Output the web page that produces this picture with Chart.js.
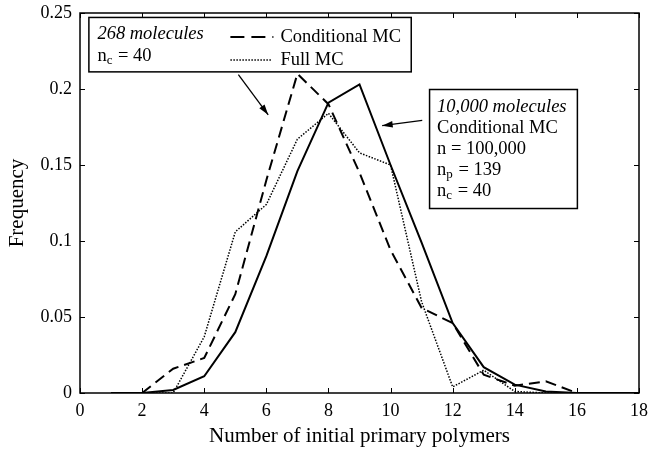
<!DOCTYPE html>
<html>
<head>
<meta charset="utf-8">
<script src="https://cdn.jsdelivr.net/npm/chart.js@4.4.1/dist/chart.umd.min.js"></script>
<style>
  body { margin: 0; background: #fff; }
  #wrap { width: 648px; height: 451px; }
</style>
</head>
<body>
<div id="wrap"><canvas id="grafico"></canvas></div>
<script>
// number of initial primary polymers
const polimeros = [1, 2, 3, 4, 5, 6, 7, 8, 9, 10, 11, 12, 13, 14, 15, 16, 17, 18];
// 10,000 molecules, conditional MC (solid)
const condMC10000 = [0, 0, 0.002, 0.011, 0.040, 0.090, 0.146, 0.191, 0.203, 0.150, 0.099, 0.046, 0.017, 0.0055, 0.001, 0, 0, 0];
// 268 molecules, conditional MC (dashed)
const condMC268 = [null, 0, 0.016, 0.023, 0.065, 0.140, 0.210, 0.190, 0.145, 0.094, 0.056, 0.046, 0.012, 0.0048, 0.0077, 0, 0, 0];
// 268 molecules, full MC (dotted)
const fullMC268 = [0, 0, 0, 0.037, 0.106, 0.124, 0.167, 0.184, 0.158, 0.150, 0.060, 0.004, 0.015, 0.001, 0, 0, 0, 0];

const xTicks = [0, 2, 4, 6, 8, 10, 12, 14, 16, 18];
const yTicks = [0, 0.05, 0.1, 0.15, 0.2, 0.25];
const yTickLabels = ['0', '0.05', '0.1', '0.15', '0.2', '0.25'];

const legendaNomes = ['Conditional MC', 'Full MC'];
const caixa268 = ['268 molecules', ['n', 'c', ' = 40']];
const caixa10000 = ['10,000 molecules', 'Conditional MC', 'n = 100,000', ['n', 'p', ' = 139'], ['n', 'c', ' = 40']];

const serif = '"Liberation Serif", "Times New Roman", serif';

function pontos(valores) {
    return polimeros.map((x, i) => ({ x: x, y: valores[i] }));
}

// texto com subscrito: [base, sub, resto]
function textoSub(ctx, partes, x, y, italico) {
    ctx.font = (italico ? 'italic ' : '') + '18.5px ' + serif;
    if (typeof partes === 'string') {
        ctx.fillText(partes, x, y);
        return;
    }
    ctx.fillText(partes[0], x, y);
    let w = ctx.measureText(partes[0]).width;
    ctx.font = '13px ' + serif;
    ctx.fillText(partes[1], x + w, y + 5);
    w += ctx.measureText(partes[1]).width + 1;
    ctx.font = '18.5px ' + serif;
    ctx.fillText(partes[2], x + w, y);
}

function seta(ctx, x1, y1, x2, y2) {
    const ang = Math.atan2(y2 - y1, x2 - x1);
    ctx.beginPath();
    ctx.moveTo(x1, y1);
    ctx.lineTo(x2, y2);
    ctx.lineWidth = 1.3;
    ctx.stroke();
    ctx.beginPath();
    ctx.moveTo(x2, y2);
    ctx.lineTo(x2 - 11 * Math.cos(ang - 0.3), y2 - 11 * Math.sin(ang - 0.3));
    ctx.lineTo(x2 - 11 * Math.cos(ang + 0.3), y2 - 11 * Math.sin(ang + 0.3));
    ctx.closePath();
    ctx.fill();
}

const moldura = {
    id: 'moldura',
    afterDatasetsDraw(chart) {
        const { ctx, chartArea: a, scales: { x, y } } = chart;
        ctx.save();
        ctx.strokeStyle = '#000';
        ctx.fillStyle = '#000';
        ctx.lineWidth = 1.5;
        ctx.strokeRect(a.left, a.top, a.right - a.left, a.bottom - a.top);
        ctx.lineWidth = 1;
        ctx.beginPath();
        xTicks.forEach(v => {
            const px = Math.round(x.getPixelForValue(v)) + 0.5;
            ctx.moveTo(px, a.bottom); ctx.lineTo(px, a.bottom - 5);
            ctx.moveTo(px, a.top); ctx.lineTo(px, a.top + 5);
        });
        yTicks.forEach(v => {
            const py = Math.round(y.getPixelForValue(v)) + 0.5;
            ctx.moveTo(a.left, py); ctx.lineTo(a.left + 5, py);
            ctx.moveTo(a.right, py); ctx.lineTo(a.right - 5, py);
        });
        ctx.stroke();

        // caixa 1 (268 molecules + legenda)
        const b1 = { l: x.getPixelForValue(0.27), r: x.getPixelForValue(10.65), t: y.getPixelForValue(0.2474), b: y.getPixelForValue(0.2116) };
        ctx.fillStyle = '#fff';
        ctx.fillRect(b1.l, b1.t, b1.r - b1.l, b1.b - b1.t);
        ctx.lineWidth = 1.5;
        ctx.strokeRect(b1.l + 0.5, b1.t + 0.5, b1.r - b1.l, b1.b - b1.t);
        ctx.fillStyle = '#000';
        ctx.textBaseline = 'middle';
        textoSub(ctx, caixa268[0], b1.l + 9, b1.t + 17, true);
        textoSub(ctx, caixa268[1], b1.l + 9, b1.t + 39, false);

        const lx = b1.l + 142;
        ctx.lineWidth = 2;
        ctx.setLineDash([14, 7]);
        ctx.beginPath(); ctx.moveTo(lx, b1.t + 20); ctx.lineTo(lx + 43, b1.t + 20); ctx.stroke();
        ctx.lineWidth = 1.5;
        ctx.setLineDash([1.5, 1.5]);
        ctx.beginPath(); ctx.moveTo(lx, b1.t + 43); ctx.lineTo(lx + 42, b1.t + 43); ctx.stroke();
        ctx.setLineDash([]);
        ctx.font = '18.5px ' + serif;
        ctx.fillText(legendaNomes[0], lx + 50, b1.t + 20);
        ctx.fillText(legendaNomes[1], lx + 50, b1.t + 43);

        // caixa 2 (10,000 molecules)
        const b2 = { l: x.getPixelForValue(11.24), r: x.getPixelForValue(16.0), t: y.getPixelForValue(0.2), b: y.getPixelForValue(0.1217) };
        ctx.fillStyle = '#fff';
        ctx.fillRect(b2.l, b2.t, b2.r - b2.l, b2.b - b2.t);
        ctx.lineWidth = 1.5;
        ctx.strokeRect(b2.l + 0.5, b2.t + 0.5, b2.r - b2.l, b2.b - b2.t);
        ctx.fillStyle = '#000';
        caixa10000.forEach((linha, i) => {
            textoSub(ctx, linha, b2.l + 8, b2.t + 18 + i * 21, i === 0);
        });

        // setas
        seta(ctx, x.getPixelForValue(5.1), y.getPixelForValue(0.2095), x.getPixelForValue(6.06), y.getPixelForValue(0.183));
        seta(ctx, x.getPixelForValue(11.02), y.getPixelForValue(0.1793), x.getPixelForValue(9.73), y.getPixelForValue(0.1759));
        ctx.restore();
    }
};

const ctx = document.getElementById('grafico').getContext('2d');
new Chart(ctx, {
    type: 'line',
    data: {
        datasets: [
            {
                label: '10,000 molecules Conditional MC',
                data: pontos(condMC10000),
                borderColor: '#000',
                borderWidth: 2,
                pointRadius: 0,
                tension: 0
            },
            {
                label: 'Conditional MC',
                data: pontos(condMC268),
                borderColor: '#000',
                borderWidth: 2,
                borderDash: [11, 6],
                pointRadius: 0,
                tension: 0
            },
            {
                label: 'Full MC',
                data: pontos(fullMC268),
                borderColor: '#000',
                borderWidth: 1.5,
                borderDash: [1.5, 1.5],
                pointRadius: 0,
                tension: 0
            }
        ]
    },
    options: {
        responsive: true,
        maintainAspectRatio: false,
        animation: false,
        layout: { padding: { top: 13, right: 9, left: 0, bottom: 0 } },
        plugins: {
            legend: { display: false },
            tooltip: { enabled: false }
        },
        scales: {
            x: {
                type: 'linear',
                min: 0,
                max: 18,
                afterBuildTicks: s => { s.ticks = xTicks.map(v => ({ value: v })); },
                afterFit: s => { s.height = 58; s.paddingLeft = 0; s.paddingRight = 0; },
                grid: { display: false, drawTicks: false },
                border: { display: false },
                ticks: { color: '#000', padding: 7, font: { family: serif, size: 18 }, maxRotation: 0 },
                title: {
                    display: true,
                    text: 'Number of initial primary polymers',
                    color: '#000',
                    font: { family: serif, size: 21 },
                    padding: { top: 0, bottom: 2 }
                }
            },
            y: {
                min: 0,
                max: 0.25,
                afterBuildTicks: s => { s.ticks = yTicks.map(v => ({ value: v })); },
                afterFit: s => { s.width = 80; s.paddingTop = 0; s.paddingBottom = 0; },
                grid: { display: false, drawTicks: false },
                border: { display: false },
                ticks: {
                    color: '#000',
                    padding: 8,
                    font: { family: serif, size: 18 },
                    callback: (v) => yTickLabels[yTicks.indexOf(v)]
                },
                title: {
                    display: true,
                    text: 'Frequency',
                    color: '#000',
                    font: { family: serif, size: 21 },
                    padding: { top: 5, bottom: 0 }
                }
            }
        }
    },
    plugins: [moldura]
});
</script>
</body>
</html>
